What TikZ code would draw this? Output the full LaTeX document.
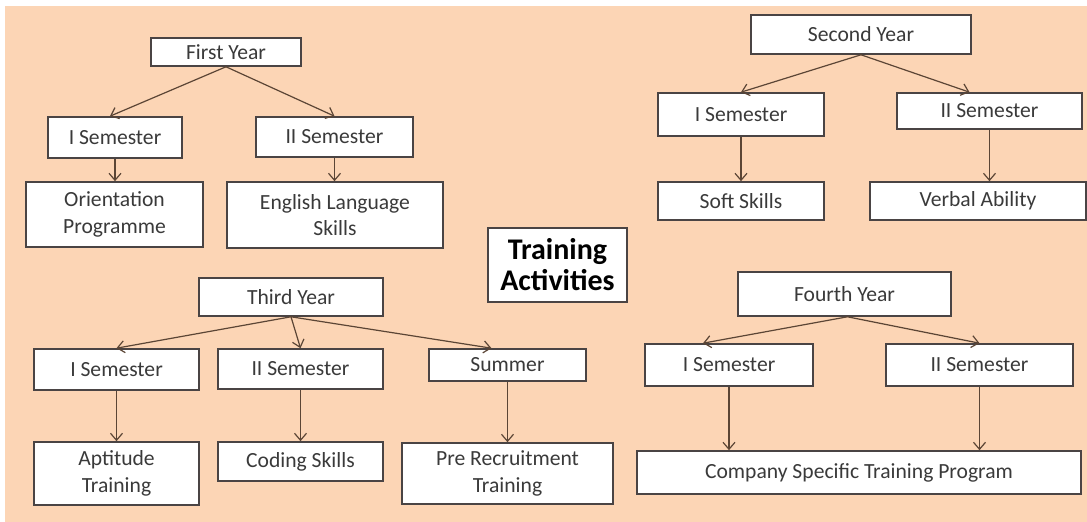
\documentclass[tikz,border=0pt]{standalone}
\usepackage{fontspec}
\setmainfont{Carlito}
\usepackage{tikz}
\usetikzlibrary{calc,arrows.meta,positioning,backgrounds}
\definecolor{peach}{HTML}{FCD5B5}
\definecolor{boxline}{HTML}{4A4444}
\definecolor{arrowc}{HTML}{5B4535}
\definecolor{textc}{HTML}{3A3A3A}
\tikzset{
block/.style={
  rectangle,
  draw=boxline,
  line width=0.8pt,
  fill=white,
  inner sep=0pt,
  align=center,
  text=textc,
  font=\fontsize{10.8}{13.3}\selectfont},
boxsize/.style 2 args={minimum width=#1, minimum height=#2},
title/.style={
  block,
  font=\fontsize{15}{15.5}\selectfont\bfseries,
  text=black},
line/.style={draw=arrowc, line width=0.6pt, -{Straight Barb[length=3.5pt,width=6pt]}}
}
\begin{document}
\begin{tikzpicture}[x=0.5pt,y=-0.5pt]
    \useasboundingbox (0,0) rectangle (1087,522);
    \fill [peach] (5,6) rectangle (1087,522);
    % first year
    \node [block, boxsize={75pt}{14pt}] (fy) at (226,52) {First Year};
    \node [block, boxsize={67pt}{20.5pt}] (fs1) at (115,137.5) {I Semester};
    \node [block, boxsize={78.5pt}{20pt}] (fs2) at (334.5,137) {II Semester};
    \node [block, boxsize={88.5pt}{32.5pt}] (fo) at (114.5,214.5) {Orientation\\Programme};
    \node [block, boxsize={108pt}{33pt}] (fe) at (335,215) {English Language\\Skills};
    % second year
    \node [block, boxsize={110pt}{19.5pt}] (sy) at (861,34.5) {Second Year};
    \node [block, boxsize={83pt}{21.5pt}] (ss1) at (741,114.5) {I Semester};
    \node [block, boxsize={92.5pt}{18pt}] (ss2) at (989.5,111) {II Semester};
    \node [block, boxsize={83pt}{19pt}] (soft) at (741,201) {Soft Skills};
    \node [block, boxsize={108pt}{19pt}] (verbal) at (978,201) {Verbal Ability};
    % centre title
    \node [title, boxsize={69.5pt}{37pt}] (ta) at (557.5,265) {Training\\Activities};
    % third year
    \node [block, boxsize={92pt}{19pt}] (ty) at (291,297) {Third Year};
    \node [block, boxsize={82.5pt}{20.5pt}] (ts1) at (116.5,369.5) {I Semester};
    \node [block, boxsize={82.5pt}{20pt}] (ts2) at (300.5,369) {II Semester};
    \node [block, boxsize={78.5pt}{16pt}] (tsum) at (507.5,365) {Summer};
    \node [block, boxsize={82.5pt}{31.5pt}] (apt) at (116.5,473.5) {Aptitude\\Training};
    \node [block, boxsize={82.5pt}{19.5pt}] (code) at (300.5,461.5) {Coding Skills};
    \node [block, boxsize={105.5pt}{30.5pt}] (pre) at (507.5,473.5) {Pre Recruitment\\Training};
    % fourth year
    \node [block, boxsize={106.5pt}{22pt}] (fy4) at (844.5,294) {Fourth Year};
    \node [block, boxsize={84pt}{21pt}] (f1) at (729,365) {I Semester};
    \node [block, boxsize={93.5pt}{21pt}] (f2) at (979.5,365) {II Semester};
    \node [block, boxsize={222pt}{21.5pt}] (comp) at (859,472.5) {Company Specific Training Program};
    % arrows
    \path [line] (fy.south) -- ([xshift=-2.5pt]fs1.north);
    \path [line] (fy.south) -- (fs2.north);
    \path [line] (fs1.south) -- (fs1.south |- fo.north);
    \path [line] (fs2.south) -- (fs2.south |- fe.north);
    \path [line] (sy.south) -- (ss1.north);
    \path [line] (sy.south) -- ([xshift=-10pt]ss2.north);
    \path [line] (ss1.south) -- (ss1.south |- soft.north);
    \path [line] (ss2.south) -- (ss2.south |- verbal.north);
    \path [line] (ty.south) -- (ts1.north);
    \path [line] (ty.south) -- (ts2.north);
    \path [line] (ty.south) -- ([xshift=-8pt]tsum.north);
    \path [line] (ts1.south) -- (ts1.south |- apt.north);
    \path [line] (ts2.south) -- (ts2.south |- code.north);
    \path [line] (tsum.south) -- (tsum.south |- pre.north);
    \path [line] ([xshift=1.5pt]fy4.south) -- ([xshift=-13pt]f1.north);
    \path [line] ([xshift=1.5pt]fy4.south) -- (f2.north);
    \path [line] (f1.south) -- (f1.south |- comp.north);
    \path [line] (f2.south) -- (f2.south |- comp.north);
\end{tikzpicture}
\end{document}
